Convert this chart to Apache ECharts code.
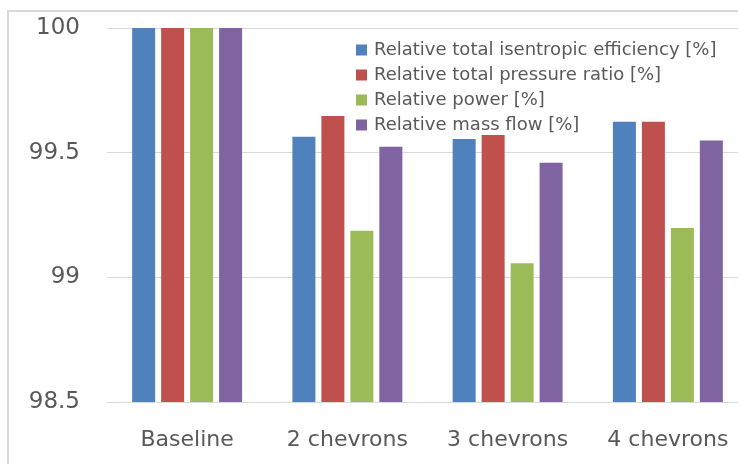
<!DOCTYPE html>
<html>
<head>
<meta charset="utf-8">
<script src="https://cdn.jsdelivr.net/npm/echarts@6/dist/echarts.min.js"></script>
<style>
  html, body { margin: 0; padding: 0; background: #fff; }
  #chart { width: 738px; height: 464px; }
</style>
</head>
<body>
<div id="chart"></div>
<script>
// Configurations compared against the baseline geometry
const categories = ['Baseline', '2 chevrons', '3 chevrons', '4 chevrons'];

// Values relative to baseline, in percent
const efficiency   = [100, 99.564, 99.555, 99.624];
const pressure     = [100, 99.647, 99.571, 99.624];
const power        = [100, 99.187, 99.056, 99.198];
const massFlow     = [100, 99.524, 99.460, 99.549];

const seriesNames = [
  'Relative total isentropic efficiency [%]',
  'Relative total pressure ratio [%]',
  'Relative power [%]',
  'Relative mass flow [%]'
];
const seriesData = [efficiency, pressure, power, massFlow];
const colors = ['#4F81BD', '#C0504D', '#9BBB59', '#8064A2'];

const yMin = 98.5, yMax = 100, yStep = 0.5;

const chart = echarts.init(document.getElementById('chart'));
const font = 'DejaVu Sans';

chart.setOption({
  animation: false,
  backgroundColor: '#fff',
  graphic: [{
    type: 'rect',
    shape: { x: 8, y: 11, width: 820, height: 500 },
    style: { fill: 'none', stroke: '#d9d9d9', lineWidth: 2 },
    silent: true
  }],
  // plot area runs past the right edge of the canvas
  grid: { left: 107, width: 641, top: 28, bottom: 62, outerBoundsMode: 'none', containLabel: false },
  legend: {
    orient: 'vertical',
    left: 351,
    top: 36,
    itemWidth: 11,
    itemHeight: 11,
    itemGap: 7,
    icon: 'rect',
    textStyle: { fontFamily: font, fontSize: 18, color: '#595959', lineHeight: 18, padding: [0, 0, 0, 2] },
    data: seriesNames
  },
  xAxis: {
    type: 'category',
    data: categories,
    axisLine: { lineStyle: { color: '#d9d9d9', width: 1 } },
    axisTick: { show: false },
    axisLabel: { fontFamily: font, fontSize: 22, color: '#595959', margin: 27 }
  },
  yAxis: {
    type: 'value',
    min: yMin,
    max: yMax,
    interval: yStep,
    axisLine: { show: false },
    axisTick: { show: false },
    splitLine: { lineStyle: { color: '#d9d9d9', width: 1 } },
    axisLabel: { fontFamily: font, fontSize: 23, color: '#595959', margin: 27 }
  },
  series: seriesNames.map((name, i) => ({
    name,
    type: 'bar',
    data: seriesData[i],
    barWidth: 23,
    barGap: '26%',
    itemStyle: { color: colors[i] }
  }))
});
</script>
</body>
</html>
